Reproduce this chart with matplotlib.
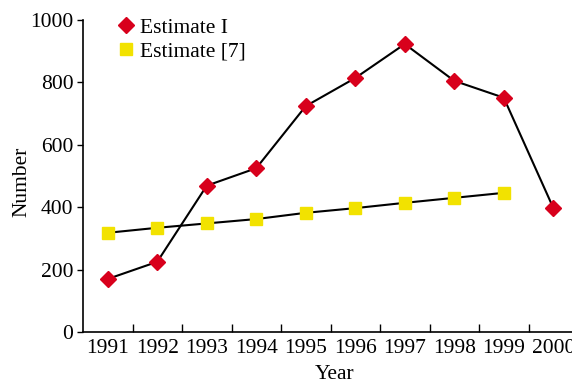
import numpy as np
import matplotlib
matplotlib.use("Agg")
import matplotlib.pyplot as plt

years = ['1991', '1992', '1993', '1994', '1995', '1996', '1997', '1998', '1999', '2000']
estimate_1 = [170, 225, 469, 525, 724, 814, 923, 805, 751, 398]
estimate_7 = [318, 334, 348, 362, 382, 397, 414, 430, 446]

plt.rcParams['font.family'] = ['Liberation Serif', 'DejaVu Serif']

fig = plt.figure(figsize=(5.72, 3.83), dpi=100)
ax = fig.add_axes([83 / 572, 51 / 383, 495 / 572, 312 / 383])

x1 = np.arange(len(estimate_1)) + 0.5
x7 = np.arange(len(estimate_7)) + 0.5

ax.plot(x1, estimate_1, color='black', lw=1.5, zorder=1)
ax.plot(x7, estimate_7, color='black', lw=1.5, zorder=1)
ax.plot(x1, estimate_1, ls='none', marker='D', ms=8, color='#d8001c', label='Estimate I', zorder=2)
ax.plot(x7, estimate_7, ls='none', marker='s', ms=8.5, color='#f2e200', label='Estimate [7]', zorder=2)

ax.set_xlim(0, len(years))
ax.set_ylim(0, 1000)
ax.set_xticks(np.arange(1, len(years)))
ax.set_xticklabels([])
ax.set_xticks(np.arange(len(years)) + 0.5, minor=True)
ax.set_xticklabels(years, minor=True)
ax.tick_params(axis='x', which='major', direction='in', length=6, width=1)
ax.tick_params(axis='x', which='minor', length=0, labelsize=15.5, pad=5)
ax.set_yticks(np.arange(0, 1001, 200))
ax.tick_params(axis='y', direction='out', length=4, width=1, labelsize=15.5, pad=3)

for s in ['top', 'right']:
    ax.spines[s].set_visible(False)
ax.spines['left'].set_linewidth(1.2)
ax.spines['bottom'].set_linewidth(1.2)

ax.set_xlabel('Year', fontsize=15.5)
ax.set_ylabel('Number', fontsize=15.5)
ax.xaxis.set_label_coords(0.509, -0.105)
ax.yaxis.set_label_coords(-0.104, 0.48)

ax.legend(loc='upper left', bbox_to_anchor=(0.025, 1.07), frameon=False, fontsize=15.5,
          handletextpad=0.15, labelspacing=0.2, handlelength=1.0)

fig.savefig('out.png', dpi=100)
